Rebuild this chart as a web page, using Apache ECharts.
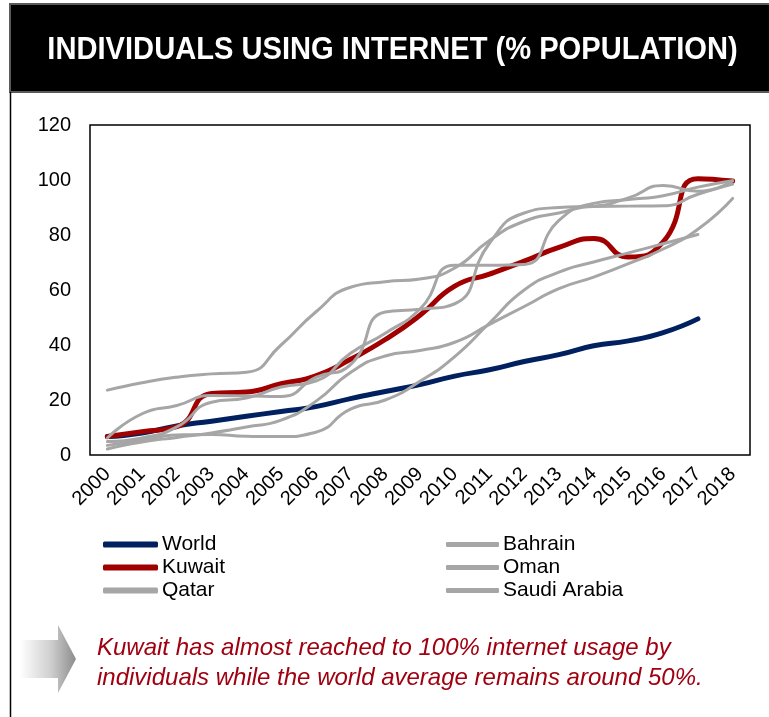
<!DOCTYPE html>
<html>
<head>
<meta charset="utf-8">
<script src="https://cdn.jsdelivr.net/npm/echarts@6/dist/echarts.min.js"></script>
<style>
  html, body { margin: 0; padding: 0; background: #fff; }
  #chart { width: 769px; height: 717px; }
</style>
</head>
<body>
<div id="chart"></div>
<script>
// Internet users as a share of population, 2000-2018
const years = ['2000','2001','2002','2003','2004','2005','2006','2007','2008','2009',
               '2010','2011','2012','2013','2014','2015','2016','2017','2018'];
const yTicks = [0, 20, 40, 60, 80, 100, 120];

const world   = [6.7, 8.0, 10.6, 12.3, 14.1, 15.8, 17.6, 20.5, 23.1, 25.6, 28.7, 31.0, 34.0, 36.5, 39.7, 41.5, 44.5, 49.5, null];
const kuwait  = [6.7, 8.5, 10.3, 22.4, 22.9, 25.9, 28.8, 34.8, 42.0, 50.8, 61.4, 65.8, 70.5, 75.5, 78.7, 72.0, 77.5, 100.5, 99.6];
const bahrain = [6.2, 15.0, 18.0, 21.6, 21.5, 21.3, 28.2, 32.9, 52.0, 53.0, 55.0, 77.0, 88.0, 90.0, 90.5, 93.5, 98.0, 95.9, 99.7];
const oman    = [3.5, 5.4, 7.3, 7.5, 6.8, 6.7, 8.3, 16.7, 20.0, 26.8, 35.8, 48.0, 60.0, 66.5, 70.2, 73.5, 76.8, 80.2, null];
const qatar   = [4.9, 6.2, 10.2, 19.2, 20.7, 24.7, 26.9, 37.0, 44.3, 53.1, 69.0, 69.0, 69.3, 85.3, 91.5, 92.9, 94.3, 97.4, 99.7];
const saudi   = [2.2, 4.7, 6.4, 8.0, 10.2, 12.7, 19.5, 30.0, 36.0, 38.0, 41.0, 47.5, 54.0, 60.5, 64.7, 69.6, 74.9, 82.1, 93.3];
const uae     = [23.6, 26.3, 28.3, 29.5, 30.1, 40.0, 52.0, 61.0, 63.0, 64.0, 68.0, 78.0, 85.0, 88.0, 90.4, 90.5, 90.6, 94.8, 98.5];

const FONT = '"Liberation Sans", Arial, sans-serif';
const NAVY = '#002060';
const RED = '#A00000';
const GREY = '#A6A6A6';

function line(name, data, color, width, z) {
  return {
    name: name,
    type: 'line',
    data: data,
    smooth: 0.55,
    showSymbol: false,
    symbol: 'none',
    connectNulls: false,
    z: z,
    itemStyle: { color: color },
    lineStyle: { color: color, width: width, cap: 'round', join: 'round' },
    emphasis: { disabled: true }
  };
}

const chart = echarts.init(document.getElementById('chart'), null, { renderer: 'canvas' });

chart.setOption({
  animation: false,
  backgroundColor: '#ffffff',
  textStyle: { fontFamily: FONT },
  grid: {
    left: 90, right: 19, top: 125, bottom: 262,
    show: true, borderColor: '#000', borderWidth: 1.5, backgroundColor: 'transparent'
  },
  xAxis: {
    type: 'category',
    data: years,
    boundaryGap: true,
    axisLine: { show: false },
    axisTick: { show: false },
    axisLabel: {
      rotate: 45, interval: 0, margin: 16,
      fontSize: 20, color: '#000', fontFamily: FONT
    }
  },
  yAxis: {
    type: 'value',
    min: yTicks[0], max: yTicks[yTicks.length - 1], interval: 20,
    axisLine: { show: false },
    axisTick: { show: false },
    splitLine: { show: false },
    axisLabel: { margin: 19, fontSize: 20, color: '#000', fontFamily: FONT }
  },
  legend: [
    {
      orient: 'vertical', left: 98, top: 529,
      icon: 'roundRect', itemWidth: 55, itemHeight: 6, itemGap: 2,
      textStyle: { fontSize: 21, color: '#000', fontFamily: FONT, padding: [0, 0, 0, -1] },
      data: ['World', 'Kuwait', 'Qatar'],
      selectedMode: false
    },
    {
      orient: 'vertical', left: 441, top: 529,
      icon: 'roundRect', itemWidth: 53, itemHeight: 5, itemGap: 2,
      textStyle: { fontSize: 21, color: '#000', fontFamily: FONT, padding: [0, 0, 0, -1] },
      data: ['Bahrain', 'Oman', 'Saudi Arabia'],
      selectedMode: false
    }
  ],
  series: [
    line('World', world, NAVY, 5, 3),
    line('Kuwait', kuwait, RED, 5, 3),
    line('Bahrain', bahrain, GREY, 3, 4),
    line('Oman', oman, GREY, 3, 4),
    line('Qatar', qatar, GREY, 3, 4),
    line('Saudi Arabia', saudi, GREY, 3, 4),
    line('UAE', uae, GREY, 3, 4)
  ],
  graphic: [
    // header bar
    {
      type: 'rect', z: 10,
      shape: { x: 10, y: 4, width: 770, height: 88 },
      style: { fill: '#000', stroke: '#5a5a5a', lineWidth: 2 }
    },
    {
      type: 'text', z: 11,
      x: 392.5, y: 50, scaleX: 0.91,
      style: {
        text: 'INDIVIDUALS USING INTERNET (% POPULATION)',
        fill: '#fff', font: 'bold 32px ' + FONT,
        align: 'center', verticalAlign: 'middle'
      }
    },
    // left frame line of the panel
    {
      type: 'line', z: 10,
      shape: { x1: 10.5, y1: 92, x2: 10.5, y2: 717 },
      style: { stroke: '#000', lineWidth: 1.5 }
    },
    // pointer arrow
    {
      type: 'polygon', z: 10,
      shape: { points: [[20, 640], [58, 640], [58, 625], [76, 659], [58, 693], [58, 678], [20, 678]] },
      style: {
        fill: new echarts.graphic.LinearGradient(0, 0, 1, 0, [
          { offset: 0, color: '#ffffff' },
          { offset: 0.55, color: '#cfcfcf' },
          { offset: 1, color: '#8c8c8c' }
        ])
      }
    },
    {
      type: 'text', z: 11, x: 97, y: 648,
      style: {
        text: 'Kuwait has almost reached to 100% internet usage by',
        fill: '#A00010', font: 'italic 24px ' + FONT, verticalAlign: 'middle'
      }
    },
    {
      type: 'text', z: 11, x: 97, y: 678,
      style: {
        text: 'individuals while the world average remains around 50%.',
        fill: '#A00010', font: 'italic 24px ' + FONT, verticalAlign: 'middle'
      }
    }
  ]
});
</script>
</body>
</html>
